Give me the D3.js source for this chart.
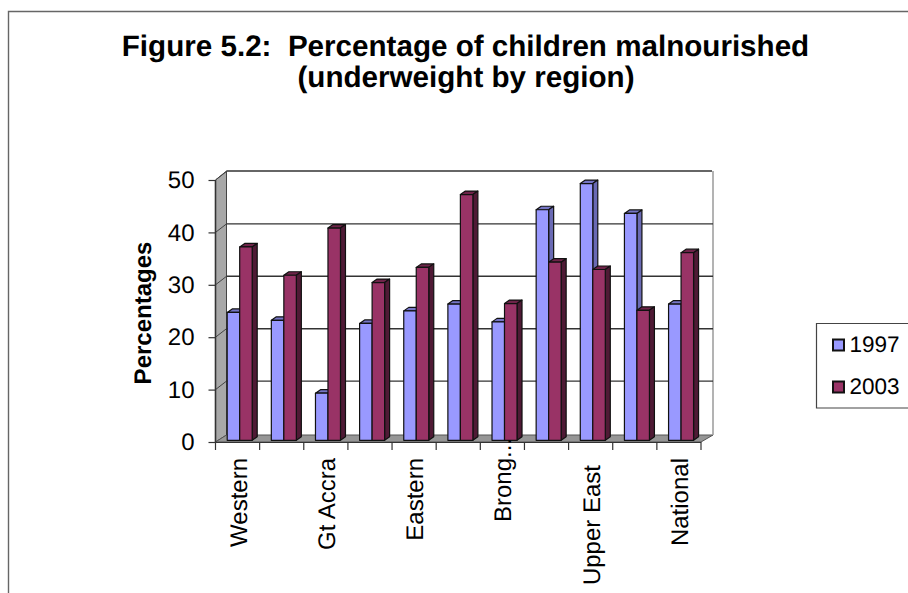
<!DOCTYPE html>
<html><head><meta charset="utf-8">
<script src="https://cdnjs.cloudflare.com/ajax/libs/d3/7.8.5/d3.min.js"></script>
<style>html,body{margin:0;padding:0;background:#fff;overflow:hidden}svg{display:block;font-family:"Liberation Sans",Arial,sans-serif;text-rendering:geometricPrecision}</style>
</head><body><svg id="c" width="908" height="593"></svg>
<script>
const categories=["Western","Central","Gt Accra","Volta","Eastern","Ashanti","Brong...","Northern","Upper East","Upper West","National"];
const shownLabels=["Western","Gt Accra","Eastern","Brong...","Upper East","National"];
const values1997=[24.4,22.9,9.0,22.3,24.7,26.0,22.6,44.0,49.0,43.3,26.0];
const values2003=[36.9,31.5,40.5,30.1,33.0,46.9,26.1,34.0,32.6,24.8,35.8];
const seriesNames=["1997","2003"];
const yTicks=[0,10,20,30,40,50];
const titleLines=["Figure 5.2:  Percentage of children malnourished","(underweight by region)"];

const svg=d3.select("#c");
const fills=[{f:"#9999FF",s:"#6A6AB4",t:"#7575C4"},{f:"#993366",s:"#4F1A35",t:"#6E2449"}];
const x0=215.5,x1=701,yTop=180,yBase=442,dx=11,dy=7;
const x=d3.scaleBand().domain(categories).range([x0,x1]).paddingInner(0).paddingOuter(0);
const y=d3.scaleLinear().domain([0,50]).range([yBase,yTop]);
const barY=v=>y(v)-1.7;
const barX=d3.scaleBand().domain(seriesNames).range([0,25]);
const barOff=11.7, bdx=5, bdy=3.5;
const axisFont=24;
const labelTop=d=>d.endsWith("...")?438:d==="Upper East"?465:458;

svg.append("path").attr("d","M8.5,593V11.5H908").attr("fill","none").attr("stroke","#666").attr("stroke-width",1.4);

svg.append("text").attr("x",465.5).attr("y",56).attr("text-anchor","middle").attr("font-size",29.6).attr("font-weight","bold").style("white-space","pre").text(titleLines[0]);
svg.append("text").attr("x",466).attr("y",87).attr("text-anchor","middle").attr("font-size",29.6).attr("font-weight","bold").text(titleLines[1]);

const backL=x0+dx,backR=x1+dx+1;
const pts=a=>a.map(p=>p.join(",")).join(" ");
svg.append("polygon").attr("points",pts([[x0,y(50)],[backL,y(50)-dy-2],[backL,y(0)-dy],[x0,y(0)]])).attr("fill","#A8A8A8").attr("stroke","#444").attr("stroke-width",1);
svg.append("polygon").attr("points",pts([[x0,y(0)],[backL,y(0)-dy],[backR,y(0)-dy],[x1,y(0)]])).attr("fill","#969696").attr("stroke","#555").attr("stroke-width",1);
svg.append("path").attr("d",`M${backL},${y(50)-9}H${backR-1}`).attr("stroke","#333").attr("stroke-width",1.4);
svg.append("path").attr("d",`M${backR},${y(50)-9}V${y(0)-dy}`).attr("stroke","#A0A0A0").attr("stroke-width",1.6);
svg.selectAll("line.grid").data(yTicks.filter(d=>d>0&&d<50)).join("line").attr("class","grid")
  .attr("x1",backL).attr("x2",backR).attr("y1",d=>y(d)-8.5).attr("y2",d=>y(d)-8.5)
  .attr("stroke","#333").attr("stroke-width",1.4);
svg.selectAll("line.diag").data(yTicks.filter(d=>d>0)).join("line").attr("class","diag")
  .attr("x1",x0).attr("x2",backL).attr("y1",d=>y(d)).attr("y2",d=>y(d)-8.5)
  .attr("stroke","#444").attr("stroke-width",1);

const draw=(vals,i)=>{
  const g=svg.append("g");
  categories.forEach((c,k)=>{
    const v=vals[k],X=x(c)+barOff+barX(seriesNames[i]),w=barX.bandwidth(),T=barY(v),B=barY(0);
    const bg=g.append("g").attr("stroke","#111").attr("stroke-width",1.2).attr("stroke-linejoin","round");
    bg.append("polygon").attr("points",pts([[X,T],[X+bdx,T-bdy],[X+w+bdx,T-bdy],[X+w,T]])).attr("fill",fills[i].t);
    bg.append("polygon").attr("points",pts([[X+w,T],[X+w+bdx,T-bdy],[X+w+bdx,B-bdy],[X+w,B]])).attr("fill",fills[i].s);
    bg.append("rect").attr("x",X).attr("y",T).attr("width",w).attr("height",B-T).attr("fill",fills[i].f);
  });
};
draw(values1997,0);draw(values2003,1);

const ax=svg.append("g").attr("transform",`translate(${x0},0)`).call(d3.axisLeft(y).tickValues(yTicks).tickSize(7).tickPadding(14));
ax.select(".domain").attr("stroke","#333").attr("stroke-width",1.6).attr("d",`M0,${yTop}V${yBase}`);
ax.selectAll(".tick line").attr("stroke","#333").attr("stroke-width",1.2);
ax.selectAll("text").attr("font-size",axisFont).attr("font-family","'Liberation Sans',Arial,sans-serif").attr("fill","#000");

const edges=categories.map(c=>x(c)).concat([x1]);
svg.append("line").attr("x1",x0).attr("x2",x1).attr("y1",yBase+.5).attr("y2",yBase+.5).attr("stroke","#333").attr("stroke-width",1.2);
svg.selectAll("line.xt").data(edges).join("line").attr("class","xt").attr("x1",d=>d).attr("x2",d=>d).attr("y1",yBase).attr("y2",yBase+8).attr("stroke","#333").attr("stroke-width",1.2);
svg.selectAll("text.xl").data(shownLabels).join("text").attr("class","xl")
  .attr("transform",d=>`translate(${x(d)+x.bandwidth()/2+9},${labelTop(d)}) rotate(-90)`)
  .attr("text-anchor","end").attr("font-size",axisFont).text(d=>d);

svg.append("text").attr("transform","translate(151,313) rotate(-90)").attr("text-anchor","middle").attr("font-size",axisFont).attr("font-weight","bold").text("Percentages");

svg.append("path").attr("d","M908,323.5H816.5V408H908").attr("fill","#fff").attr("stroke","#444").attr("stroke-width",1.2);
seriesNames.forEach((s,i)=>{
  const yy=[345,387][i];
  svg.append("rect").attr("x",833).attr("y",yy-5.5).attr("width",11).attr("height",11).attr("fill",fills[i].f).attr("stroke","#111").attr("stroke-width",2);
  svg.append("text").attr("x",849.5).attr("y",yy+7).attr("font-size",22.5).text(s);
});
</script></body></html>
